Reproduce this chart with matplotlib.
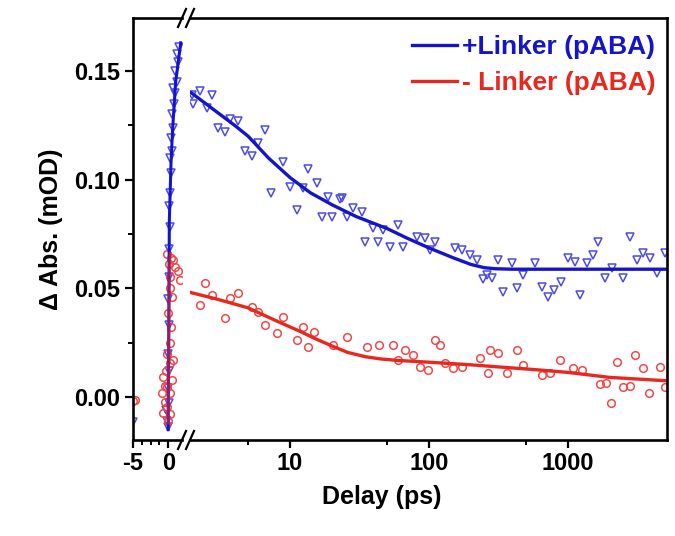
import numpy as np
import matplotlib
matplotlib.use("Agg")
import matplotlib.pyplot as plt
import matplotlib.ticker as ticker
from matplotlib.lines import Line2D

plt.rcParams['font.family'] = ['Liberation Sans', 'DejaVu Sans']
plt.rcParams['font.weight'] = 'bold'

# ---- data: left (linear) segment, delay -5 .. 2 ps ----
blue_fit_l_x = [0.0, 0.08, 0.16, 0.4, 0.64, 1.06, 1.78]
blue_fit_l_y = [-0.015, 0.03, 0.081, 0.108, 0.124, 0.145, 0.163]
red_fit_l_x = [0.0, 0.08, 0.16, 0.3]
red_fit_l_y = [-0.012, 0.03, 0.06, 0.066]

blue_pts_l_x = [-5.0, -0.2, 0.0, -0.3, 0.05, 0.0, 0.1, 0.0, 0.1, -0.05, 0.15, 0.1, 0.2, 0.05,
                0.3, 0.35, 0.25, 0.55, 0.45, 0.7, 0.55, 0.8, 0.9, 0.7, 1.2, 1.0, 1.4, 1.3, 1.6]
blue_pts_l_y = [-0.0115, -0.011, -0.014, -0.006, -0.003, 0.004, 0.012, 0.02, 0.033, 0.045, 0.055,
                0.068, 0.078, 0.088, 0.094, 0.103, 0.11, 0.113, 0.119, 0.124, 0.13, 0.135, 0.14,
                0.142, 0.145, 0.15, 0.154, 0.158, 0.161]

red_pts_l_x = [-5.0, -4.7, -0.2, 0.7, 1.4, 0.26, 1.7, 0.5, 0.0, 0.26, -0.2, 0.26, -0.7, -0.2, -0.9,
               0.26, -0.45, -0.2, -0.7, 0.5, 0.7, 0.1, 0.9, 0.4, 0.2, -0.3, 0.3, 0.0, -0.5, 0.4]
red_pts_l_y = [-0.002, -0.0014, 0.066, 0.063, 0.058, 0.055, 0.054, 0.046, 0.0387, 0.025, 0.020,
               0.0156, 0.009, 0.0046, 0.002, 0.002, -0.0023, -0.0046, -0.0074, 0.0078, 0.017,
               0.061, 0.06, 0.064, 0.05, 0.012, -0.008, -0.011, 0.005, 0.032]

# ---- data: right (log) segment, delay 2 .. 5000 ps ----
blue_fit_x = [1.95, 3, 4, 5, 7, 10, 14, 20, 30, 50, 70, 100, 150, 200, 250, 300, 400, 1000, 5000]
blue_fit_y = [0.140, 0.131, 0.125, 0.120, 0.110, 0.101, 0.094, 0.0885, 0.083, 0.0775, 0.073,
              0.0686, 0.064, 0.061, 0.0595, 0.059, 0.0588, 0.0588, 0.0588]
red_fit_x = [1.95, 3, 5, 8, 12, 15, 20, 26, 35, 45, 60, 100, 200, 320, 600, 1000, 2000, 5000]
red_fit_y = [0.048, 0.045, 0.041, 0.035, 0.030, 0.027, 0.0235, 0.0205, 0.0185, 0.0175, 0.0168,
             0.016, 0.0148, 0.0138, 0.0125, 0.0113, 0.009, 0.0075]

blue_pts_x = [1.96, 2.25, 2.73, 2.0, 2.52, 3.7, 4.2, 3.04, 3.4, 6.6, 5.9, 4.75, 5.3, 8.9, 13.5,
              10, 15.6, 7.3, 12.4, 11.2, 18.8, 22.9, 17, 20,
              23.5, 28.4, 33, 25.7, 39.5, 46.6, 59.6, 34.6, 43, 52.5, 65, 82, 93.5, 111, 101,
              154, 172, 197, 220, 260, 284, 246, 313, 395, 340, 430, 473, 580, 650, 720, 790,
              890, 1000, 1120, 1220, 1370, 1520, 1650, 1850, 2070, 2500, 2780, 3120, 3460,
              3900, 4380, 4950]
blue_pts_y = [0.139, 0.1408, 0.139, 0.135, 0.133, 0.128, 0.127, 0.124, 0.122, 0.123, 0.117, 0.113,
              0.111, 0.108, 0.105, 0.0966, 0.0985, 0.0939, 0.096, 0.086, 0.092, 0.091, 0.083,
              0.083,
              0.0916, 0.087, 0.085, 0.0828, 0.0778, 0.0768, 0.079, 0.0713, 0.0713, 0.069, 0.069,
              0.0736, 0.0732, 0.0713, 0.0676, 0.0686, 0.0676, 0.0653, 0.063, 0.0561, 0.0548,
              0.0543, 0.063, 0.0617, 0.0483, 0.0502, 0.0561, 0.0617, 0.0506, 0.046, 0.0492,
              0.0529, 0.064, 0.0621, 0.0469, 0.0617, 0.0653, 0.0713, 0.0548, 0.0594, 0.0548,
              0.0736, 0.063, 0.0663, 0.064, 0.057, 0.0663]

red_pts_x = [2.45, 2.73, 2.25, 3.7, 4.2, 3.4, 5.3, 5.9, 6.6, 8.9, 8.1, 11.2, 12.4, 15, 13.5, 25.7,
             20.3, 35.8, 44, 55, 67, 77, 60, 110, 120, 130, 86, 98, 148, 172, 232, 274, 313,
             430, 473, 265, 363, 650, 880, 740, 1080, 1250, 2250, 3030, 3460, 4600, 1700,
             1870, 2500, 2800, 3800, 5000, 2040]
red_pts_y = [0.0525, 0.047, 0.0423, 0.0456, 0.0479, 0.0364, 0.0414, 0.039, 0.0331, 0.0368, 0.0294,
             0.0262, 0.0322, 0.0299, 0.023, 0.0276, 0.0239, 0.023, 0.0239, 0.024, 0.0216,
             0.0193, 0.017, 0.0262, 0.024, 0.0156, 0.0138, 0.0124, 0.0133, 0.0138, 0.018,
             0.0216, 0.0202, 0.0216, 0.0147, 0.011, 0.011, 0.0101, 0.017, 0.011, 0.0133,
             0.0124, 0.0161, 0.0193, 0.0133, 0.0138, 0.006, 0.0064, 0.0046, 0.005, 0.0018,
             0.0046, -0.0028]

y_ticks = [0.00, 0.05, 0.10, 0.15]
y_ticklabels = ['0.00', '0.05', '0.10', '0.15']

BLUE = '#1414cc'
BLUE_M = '#4c4ce6'
RED = '#e8281e'
RED_M = '#f04848'

W, H = 675, 536
fig = plt.figure(figsize=(W / 100, H / 100), dpi=100)
ax1 = fig.add_axes([133 / W, 96 / H, 49 / W, 422 / H])
ax2 = fig.add_axes([190 / W, 96 / H, 477 / W, 422 / H])

mk = dict(linestyle='none', markerfacecolor='none', markersize=5.5, markeredgewidth=1.1)

ax1.plot(blue_pts_l_x, blue_pts_l_y, marker='v', color=BLUE_M, **mk)
ax1.plot(red_pts_l_x, red_pts_l_y, marker='o', color=RED_M, **mk)
ax1.plot(blue_fit_l_x, blue_fit_l_y, color=BLUE, lw=2.2)
ax1.plot(red_fit_l_x, red_fit_l_y, color=RED, lw=2.2, alpha=0.6)

ax2.plot(blue_pts_x, blue_pts_y, marker='v', color=BLUE_M, **mk)
ax2.plot(red_pts_x, red_pts_y, marker='o', color=RED_M, **mk)
lb, = ax2.plot(blue_fit_x, blue_fit_y, color=BLUE, lw=2.4)
lr, = ax2.plot(red_fit_x, red_fit_y, color=RED, lw=2.4)

ylim = (-0.0198, 0.1744)
ax1.set_xlim(-5, 1.96)
ax1.set_ylim(*ylim)
ax2.set_xscale('log')
ax2.set_xlim(1.91, 5150)
ax2.set_ylim(*ylim)

for ax in (ax1, ax2):
    for s in ax.spines.values():
        s.set_linewidth(1.9)
ax1.spines['right'].set_visible(False)
ax2.spines['left'].set_visible(False)

# ticks
ax1.xaxis.set_major_locator(ticker.FixedLocator([-5, 0]))
ax1.xaxis.set_major_formatter(ticker.FixedFormatter(['-5', '0']))
ax1.xaxis.set_minor_locator(ticker.FixedLocator([-3.75, -2.5, -1.25]))
ax1.yaxis.set_major_locator(ticker.FixedLocator(y_ticks))
ax1.yaxis.set_major_formatter(ticker.FixedFormatter(y_ticklabels))
ax1.yaxis.set_minor_locator(ticker.FixedLocator([0.025, 0.075, 0.125]))

ax2.xaxis.set_major_locator(ticker.FixedLocator([10, 100, 1000]))
ax2.xaxis.set_major_formatter(ticker.FixedFormatter(['10', '100', '1000']))
ax2.xaxis.set_minor_locator(ticker.FixedLocator([5, 50, 500]))
ax2.xaxis.set_minor_formatter(ticker.NullFormatter())
ax2.yaxis.set_major_locator(ticker.NullLocator())
ax2.yaxis.set_minor_locator(ticker.NullLocator())

for ax in (ax1, ax2):
    ax.tick_params(which='major', direction='out', length=6, width=1.6, labelsize=17, pad=3)
    ax.tick_params(which='minor', direction='out', length=3.5, width=1.4)
ax1.tick_params(axis='y', which='both', right=False)
ax2.tick_params(axis='y', which='both', left=False, right=False)

ax1.set_ylabel('Δ Abs. (mOD)', fontsize=18, fontweight='bold', labelpad=8)
fig.text(382 / W, 1 - 497 / H, 'Delay (ps)', fontsize=18, fontweight='bold',
         ha='center', va='center')

# axis break marks
for yp in (18, 440):
    for xp in (182, 190):
        fig.add_artist(Line2D([(xp - 4) / W, (xp + 4) / W],
                              [1 - (yp + 9) / H, 1 - (yp - 9) / H],
                              transform=fig.transFigure, color='black', lw=1.6))

leg = ax2.legend([lb, lr], ['+Linker (pABA)', '- Linker (pABA)'], loc='upper right',
                 bbox_to_anchor=(1.013, 1.0), frameon=False, fontsize=19, handlelength=1.7,
                 handletextpad=0.2, labelspacing=0.45, borderaxespad=0.25)
for txt, c in zip(leg.get_texts(), (BLUE, RED)):
    txt.set_color(c)
    txt.set_fontweight('bold')

fig.savefig('out.png', dpi=100)
